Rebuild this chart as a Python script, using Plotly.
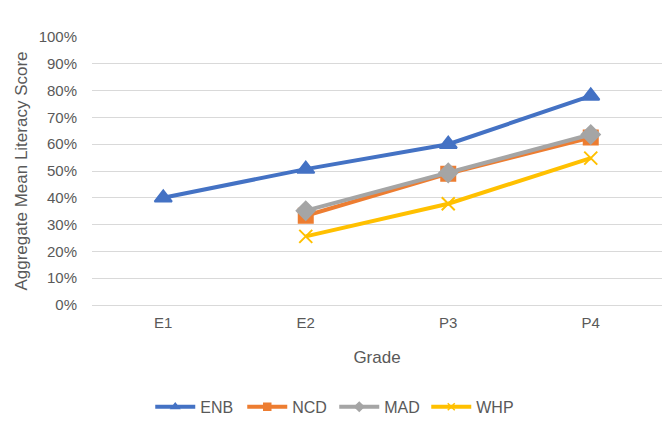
import plotly.graph_objects as go

grades = ["E1", "E2", "P3", "P4"]
enb = [0.40, 0.507, 0.60, 0.78]
ncd = [None, 0.333, 0.49, 0.625]
mad = [None, 0.352, 0.493, 0.636]
whp = [None, 0.256, 0.378, 0.548]

series = [
    ("ENB", enb, "#4472C4", "triangle-up", 15),
    ("NCD", ncd, "#ED7D31", "square", 14),
    ("MAD", mad, "#A5A5A5", "diamond", 14),
    ("WHP", whp, "#FFC000", "x-thin-open", 13),
]

fig = go.Figure()
for name, vals, col, sym, sz in series:
    fig.add_trace(go.Scatter(
        x=grades, y=vals, name=name, mode="lines+markers",
        line=dict(color=col, width=4),
        marker=dict(symbol=sym, size=sz, color=col, line=dict(color=col, width=2)),
        connectgaps=False, showlegend=False,
    ))
# legend entries with small markers
for name, vals, col, sym, sz in series:
    fig.add_trace(go.Scatter(
        x=[None], y=[None], name=name, mode="lines+markers",
        line=dict(color=col, width=4),
        marker=dict(symbol=sym, size=7, color=col, line=dict(color=col, width=1.5)),
        showlegend=True,
    ))

font_fam = "Liberation Sans, Arial, sans-serif"
fig.update_layout(
    width=662, height=424,
    margin=dict(l=84, r=8, t=29, b=125),
    paper_bgcolor="white", plot_bgcolor="white",
    font=dict(family=font_fam, size=15, color="#595959"),
    showlegend=True,
    legend=dict(orientation="h", x=0.425, xanchor="center", y=-0.38, yanchor="middle",
                font=dict(size=16, color="#595959"), itemwidth=40, tracegroupgap=0,
                entrywidth=37, entrywidthmode="pixels"),
    xaxis=dict(
        type="category", categoryorder="array", categoryarray=grades,
        range=[-0.5, 3.5], showgrid=False, showline=False, zeroline=False,
        ticks="", ticklabelstandoff=7,
        title=dict(text="Grade", font=dict(size=17, color="#595959"), standoff=21),
        tickfont=dict(size=15, color="#595959"),
    ),
    yaxis=dict(
        range=[0, 1.0], dtick=0.1, tickformat=".0%",
        showgrid=True, gridcolor="#D9D9D9", gridwidth=1,
        zeroline=True, zerolinecolor="#D9D9D9", zerolinewidth=1,
        showline=False, ticks="", ticklabelstandoff=14,
        title=dict(text="Aggregate Mean Literacy Score", font=dict(size=17, color="#595959"), standoff=6),
        tickfont=dict(size=15, color="#595959"),
    ),
)
fig.write_html("out.html")
